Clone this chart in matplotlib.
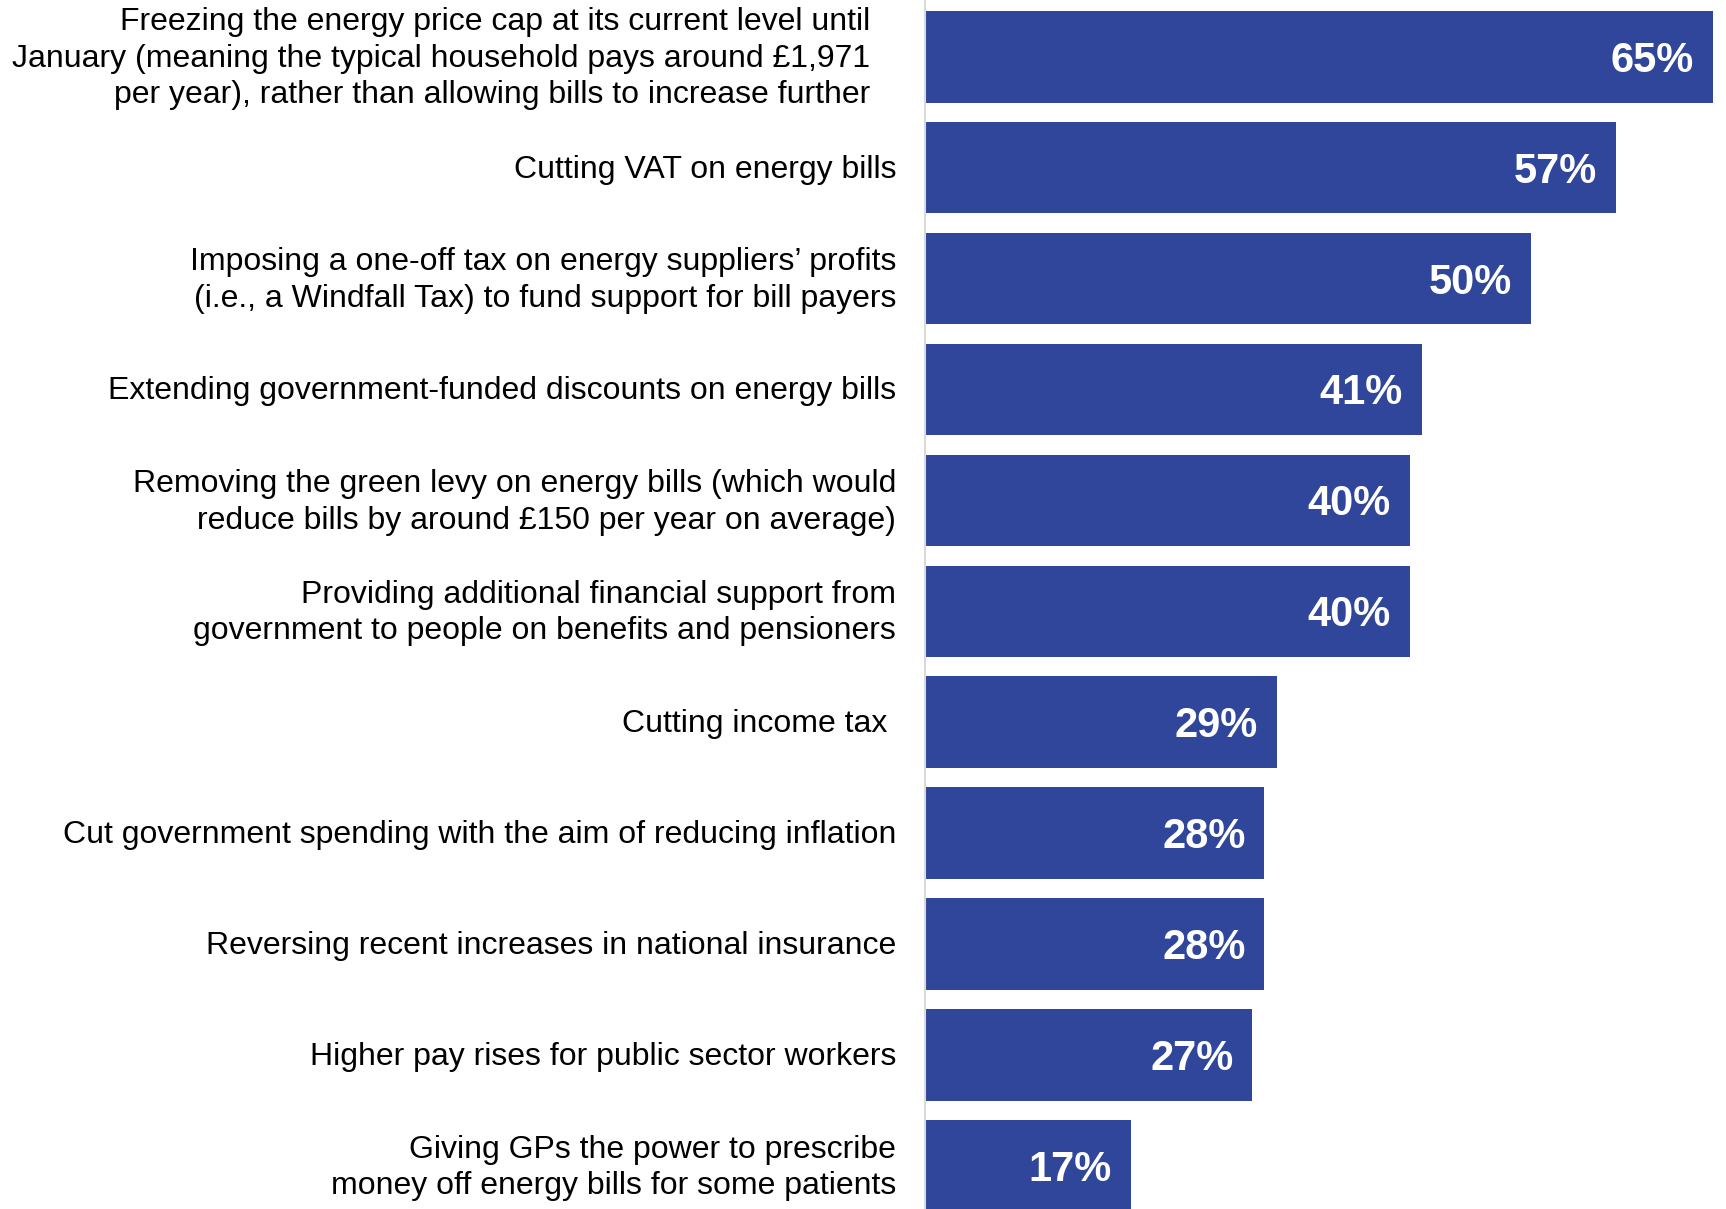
import matplotlib
matplotlib.use("Agg")
import matplotlib.pyplot as plt

plt.rcParams['font.family'] = ['Liberation Sans', 'DejaVu Sans']

labels = [
    "Freezing the energy price cap at its current level until\n"
    "January (meaning the typical household pays around £1,971\n"
    "per year), rather than allowing bills to increase further",
    "Cutting VAT on energy bills",
    "Imposing a one-off tax on energy suppliers\u2019 profits\n"
    "(i.e., a Windfall Tax) to fund support for bill payers",
    "Extending government-funded discounts on energy bills",
    "Removing the green levy on energy bills (which would\n"
    "reduce bills by around £150 per year on average)",
    "Providing additional financial support from\n"
    "government to people on benefits and pensioners",
    "Cutting income tax",
    "Cut government spending with the aim of reducing inflation",
    "Reversing recent increases in national insurance",
    "Higher pay rises for public sector workers",
    "Giving GPs the power to prescribe\n"
    "money off energy bills for some patients",
]
values = [65, 57, 50, 41, 40, 40, 29, 28, 28, 27, 17]

bar_color = "#2F469A"

fig = plt.figure(figsize=(17.26, 12.09), dpi=100)
ax = fig.add_axes([925 / 1726, 0, (1713 - 925) / 1726, 1])

y = list(range(len(values)))
ax.barh(y, values, height=0.825, color=bar_color)
ax.set_xlim(0, 65)
ax.set_ylim(10.39, -0.512)

for yi, v in zip(y, values):
    ax.annotate(f"{v}%", xy=(v, yi), xytext=(-19, -4), textcoords="offset pixels",
                ha="right", va="center",
                color="white", fontsize=30, fontweight="bold")

# category labels, a couple sit a bit further left as in the original
shift = {0: 26, 6: 9}
for yi, lab in zip(y, labels):
    ax.annotate(lab, xy=(0, yi), xycoords="data",
                xytext=(-29 - shift.get(yi, 0), -2), textcoords="offset pixels",
                ha="right", va="center", multialignment="right",
                fontsize=23, linespacing=1.28, color="black")

ax.set_xticks([])
ax.set_yticks([])
for s in ["top", "right", "bottom"]:
    ax.spines[s].set_visible(False)
ax.spines["left"].set_color("#D9D9D9")
ax.spines["left"].set_linewidth(1.5)

fig.savefig("out.png", dpi=100)
